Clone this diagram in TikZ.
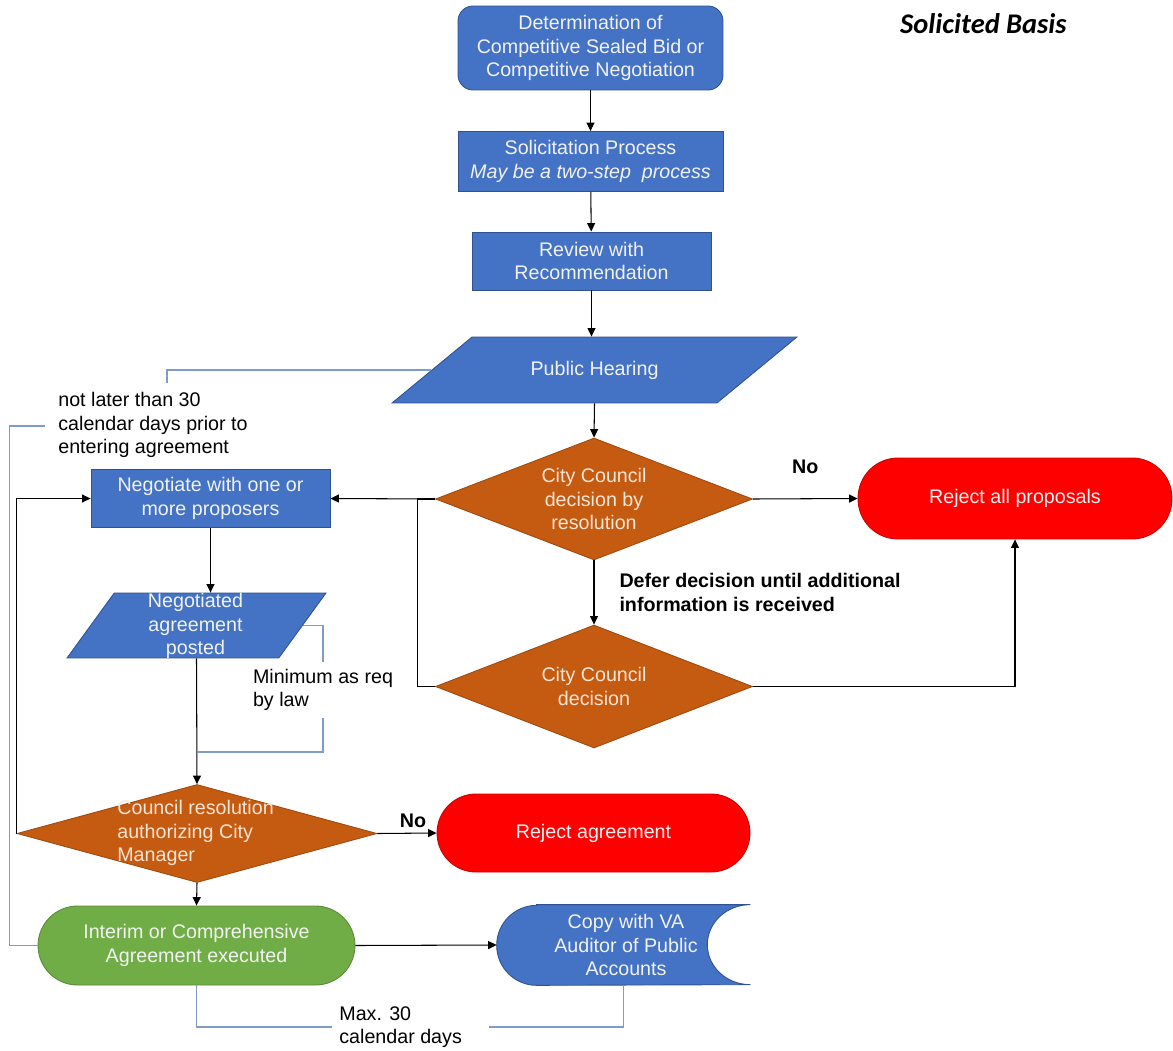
\documentclass[tikz,border=0pt]{standalone}
\usepackage{fontspec}
\setmainfont{Liberation Sans}
\newfontfamily\titlefont{Carlito}
\usetikzlibrary{shapes.geometric,arrows.meta,positioning,backgrounds}

\definecolor{boxblue}{HTML}{4472C4}
\definecolor{boxline}{HTML}{2F528F}
\definecolor{boxfont}{HTML}{F2F2F2}
\definecolor{decfill}{HTML}{C55A11}
\definecolor{decline}{HTML}{A04A10}
\definecolor{decfont}{HTML}{FBE5D6}
\definecolor{rejred}{HTML}{FF0000}
\definecolor{okgreen}{HTML}{70AD47}
\definecolor{notecol}{HTML}{7F9CC9}

\begin{document}
\begin{tikzpicture}[x=0.02cm,y=-0.02cm,>={Triangle[length=1.7mm,width=1.6mm]},
  boxtext/.style={font=\fontsize{11.2}{13.3}\selectfont,text=boxfont,align=center,inner sep=0pt},
  procbox/.style={boxtext,rectangle,fill=boxblue,draw=boxline,line width=0.5pt},
  iobox/.style={boxtext,trapezium,trapezium stretches body,fill=boxblue,draw=boxline,line width=0.5pt,
    text height=0.3cm,text depth=0.1cm},
  decbox/.style={diamond,fill=decfill,draw=decline,line width=0.5pt,inner sep=0pt},
  dectext/.style={boxtext,text=decfont},
  endbox/.style={boxtext,rectangle,fill=#1,draw=#1!80!black,line width=0.5pt},
  flow/.style={->,line width=0.6pt},
  note/.style={notecol,line width=0.6pt},
  notetext/.style={font=\fontsize{11.2}{13.3}\selectfont,align=left,inner sep=0pt},
  choice/.style={font=\bfseries\fontsize{11.2}{13.3}\selectfont,align=left,inner sep=0pt}]

\useasboundingbox (0,0) rectangle (1173,1051);

% --- Titolo ---
\node[font=\titlefont\bfseries\itshape\fontsize{16.2}{18}\selectfont,anchor=west] (title) at (894,24) {Solicited Basis};

% --- Colonna centrale ---
\node[procbox,rounded corners=0.3cm,minimum width=5.3cm,minimum height=1.68cm] (det) at (590.5,48)
  {Determination of\\Competitive Sealed Bid or\\Competitive Negotiation};
\node[procbox,minimum width=5.3cm,minimum height=1.2cm] (sol) at (590.5,161.5)
  {Solicitation Process\\\textit{May be a two-step\ \ process}};
\node[procbox,minimum width=4.78cm,minimum height=1.16cm] (rev) at (591.5,261)
  {Review with\\Recommendation};
\node[iobox,trapezium left angle=39.5,trapezium right angle=140.5,inner ysep=0.46cm,
  minimum width=8.1cm] (hear) at (594.5,370) {Public Hearing};

\node[decbox,minimum width=6.34cm,minimum height=2.44cm] (dec1) at (594,499) {};
\node[dectext] (dec1txt) at (dec1) {City Council\\decision by\\resolution};
\node[decbox,minimum width=6.34cm,minimum height=2.46cm] (dec2) at (594,686.5) {};
\node[dectext] (dec2txt) at (dec2) {City Council\\decision};

\node[endbox=rejred,rounded corners=0.8cm,minimum width=6.28cm,minimum height=1.62cm] (rejall) at (1015,498.5)
  {Reject all proposals};

% --- Colonna sinistra ---
\node[procbox,minimum width=4.78cm,minimum height=1.16cm] (neg) at (210.5,498.5)
  {Negotiate with one or\\more proposers};
\node[iobox,trapezium left angle=54,trapezium right angle=126,text height=0pt,text depth=0pt,
  inner ysep=0.65cm,minimum width=5.18cm] (posted) at (196.5,625.5) {};
\node[boxtext] (postedtxt) at (195.5,626) {Negotiated\\agreement\\posted};

\node[decbox,minimum width=7.2cm,minimum height=1.96cm] (auth) at (197,833.5) {};
\node[dectext,align=left,anchor=west] (authtxt) at (117,833) {Council resolution\\authorizing City\\Manager};
\node[endbox=rejred,rounded corners=0.78cm,minimum width=6.26cm,minimum height=1.56cm] (rejagr) at (593.5,833)
  {Reject agreement};

\node[endbox=okgreen,rounded corners=0.79cm,minimum width=6.34cm,minimum height=1.58cm] (exec) at (196.5,945.5)
  {Interim or Comprehensive\\Agreement executed};
\node[boxtext,minimum width=5.06cm,minimum height=1.6cm] (copy) at (623.5,945)
  {\hspace*{0.1cm}Copy with VA\\\hspace*{0.1cm}Auditor of Public\\\hspace*{0.1cm}Accounts};
\begin{scope}[on background layer]
  \fill[boxblue,draw=boxline,line width=0.5pt] ([xshift=0.8cm]copy.north west) -- (copy.north east)
    arc[start angle=90,end angle=270,x radius=0.86cm,y radius=0.8cm]
    -- ([xshift=0.8cm]copy.south west) arc[start angle=270,end angle=90,radius=0.8cm] -- cycle;
\end{scope}

% --- Note ---
\node[notetext,anchor=west] (latenote) at (58,425) {not later than 30\\calendar days prior to\\entering agreement};
\node[notetext,inner sep=4pt] (minnote) at (323,690) {Minimum as req\\by law};
\node[notetext,inner sep=4pt,anchor=west] (maxnote) at (332,1027) {Max. 30\\calendar days};
\coordinate (latetop) at (167,383);
\coordinate (lateleft) at (45,426);
\coordinate (minfoot) at (197,752);

% --- Frecce ---
\draw[flow] (det) -- (sol);
\draw[flow] (sol) -- (rev);
\draw[flow] (rev) -- (rev.south |- hear.north);
\draw[flow] (hear.south) -- (dec1.north);
\draw[flow] (dec1.east) -- node[choice,above=0.5cm] {No} (rejall.west);
\draw[flow] (dec1.west) -- (neg.east);
\draw[flow] (dec1.south) -- node[choice,right=0.5cm] {Defer decision until additional\\information is received} (dec2.north);
\draw[flow] (dec2.east) -| (rejall.south);
\draw[line width=0.6pt] (dec2.west) -- ++(-18,0) |- (dec1.west);
\draw[flow] (neg.south) -- (neg.south |- posted.north);
\draw[flow] (posted.south) -- (auth.north);
\draw[flow] (auth.east) -- node[choice,pos=0.6,above=0.1cm] {No} (rejagr.west);
\draw[flow] (auth.west) |- (neg.west);
\draw[flow] (auth.south) -- (exec.north);
\draw[flow] (exec.east) -- (copy.west);

% --- Linee delle note ---
\draw[note] (hear.west) -| (latetop);
\draw[note] (exec.west) -- ++(-28,0) |- (lateleft);
\draw[note] (posted.east) -| (minnote.north);
\draw[note] (minnote.south) |- (minfoot);
\draw[note] (exec.south) |- (maxnote.west);
\draw[note] ([xshift=0.4cm]maxnote.east) -| (copy.south);

\end{tikzpicture}
\end{document}
